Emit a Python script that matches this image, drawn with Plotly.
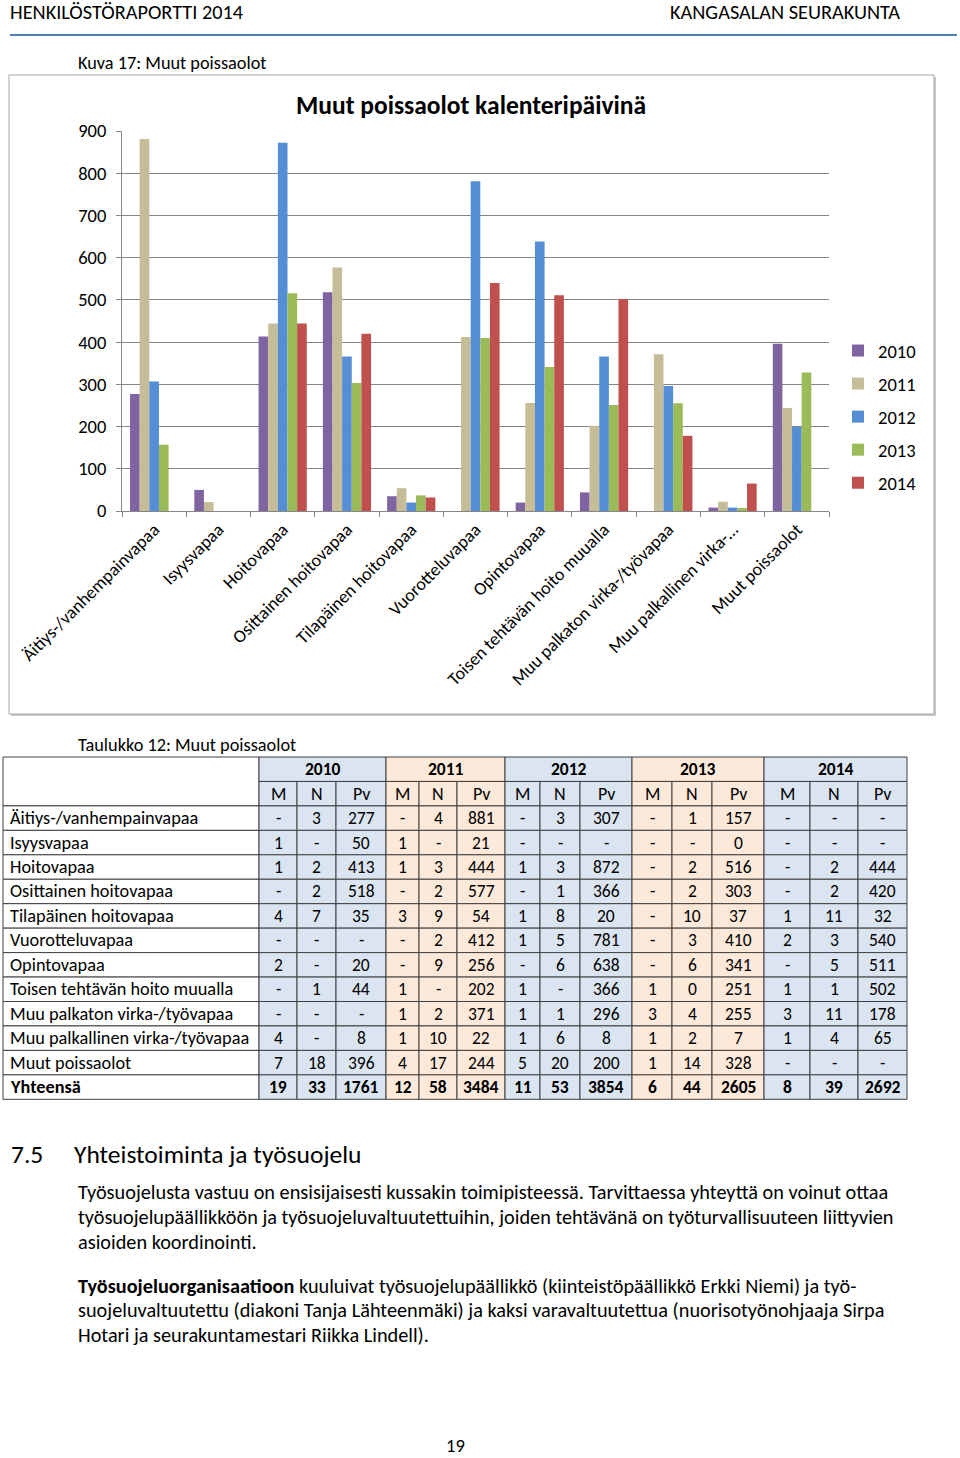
import plotly.graph_objects as go

FONT = "Carlito, Calibri, Lato, sans-serif"

years = ["2010", "2011", "2012", "2013", "2014"]
colors = ["#8064A2", "#C4BD97", "#558ED5", "#9BBB59", "#C0504D"]

categories = ["Äitiys-/vanhempainvapaa", "Isyysvapaa", "Hoitovapaa",
              "Osittainen hoitovapaa", "Tilapäinen hoitovapaa", "Vuorotteluvapaa",
              "Opintovapaa", "Toisen tehtävän hoito muualla",
              "Muu palkaton virka-/työvapaa", "Muu palkallinen virka-/työvapaa",
              "Muut poissaolot"]
tick_labels = categories[:9] + ["Muu palkallinen virka-…", "Muut poissaolot"]

# table columns M / N / Pv per year ("-" = no entry)
m_2010 = ["-", "1", "1", "-", "4", "-", "2", "-", "-", "4", "7"]
n_2010 = ["3", "-", "2", "2", "7", "-", "-", "1", "-", "-", "18"]
pv_2010 = ["277", "50", "413", "518", "35", "-", "20", "44", "-", "8", "396"]

m_2011 = ["-", "1", "1", "-", "3", "-", "-", "1", "1", "1", "4"]
n_2011 = ["4", "-", "3", "2", "9", "2", "9", "-", "2", "10", "17"]
pv_2011 = ["881", "21", "444", "577", "54", "412", "256", "202", "371", "22", "244"]

m_2012 = ["-", "-", "1", "-", "1", "1", "-", "1", "1", "1", "5"]
n_2012 = ["3", "-", "3", "1", "8", "5", "6", "-", "1", "6", "20"]
pv_2012 = ["307", "-", "872", "366", "20", "781", "638", "366", "296", "8", "200"]

m_2013 = ["-", "-", "-", "-", "-", "-", "-", "1", "3", "1", "1"]
n_2013 = ["1", "-", "2", "2", "10", "3", "6", "0", "4", "2", "14"]
pv_2013 = ["157", "0", "516", "303", "37", "410", "341", "251", "255", "7", "328"]

m_2014 = ["-", "-", "-", "-", "1", "2", "-", "1", "3", "1", "-"]
n_2014 = ["-", "-", "2", "2", "11", "3", "5", "1", "11", "4", "-"]
pv_2014 = ["-", "-", "444", "420", "32", "540", "511", "502", "178", "65", "-"]

totals = [["19", "33", "1761"], ["12", "58", "3484"], ["11", "53", "3854"],
          ["6", "44", "2605"], ["8", "39", "2692"]]

sub_heads = ["M", "N", "Pv"]

m_cols = [m_2010, m_2011, m_2012, m_2013, m_2014]
n_cols = [n_2010, n_2011, n_2012, n_2013, n_2014]
pv_cols = [pv_2010, pv_2011, pv_2012, pv_2013, pv_2014]


def num(v):
    return None if v == "-" else float(v)


def px(x):
    return x / 960


def py(y):
    return 1 - y / 1458


fig = go.Figure()

for year, color, pv in zip(years, colors, pv_cols):
    fig.add_trace(go.Bar(x=categories, y=[num(v) for v in pv], name=year,
                         marker=dict(color=color, line_width=0),
                         legendgroup=year))

grey = "#868686"
fig.update_layout(
    width=960, height=1458,
    margin=dict(l=0, r=0, t=0, b=0, autoexpand=False),
    paper_bgcolor="white", plot_bgcolor="rgba(0,0,0,0)",
    font=dict(family=FONT, color="black"),
    barmode="group", bargap=0.25, bargroupgap=0,
    title=dict(text="<b>Muut poissaolot kalenteripäivinä</b>",
               x=px(471), y=py(105), xanchor="center", yanchor="middle",
               font=dict(size=25.5, family=FONT)),
    legend=dict(x=px(838), y=py(332), xanchor="left", yanchor="top",
                font=dict(size=18.5), traceorder="grouped", tracegroupgap=6,
                bgcolor="rgba(0,0,0,0)"),
    xaxis=dict(domain=[px(122), px(829)], anchor="y", automargin=False,
               categoryorder="array", categoryarray=categories,
               tickvals=categories, ticktext=tick_labels,
               tickangle=-45, tickfont=dict(size=18),
               showline=True, linecolor=grey, linewidth=1,
               ticks="outside", tickson="boundaries", ticklen=5, tickcolor=grey,
               showgrid=False),
    yaxis=dict(domain=[py(511), py(131)], anchor="x", range=[0, 900],
               automargin=False,
               dtick=100, tickfont=dict(size=18.5),
               showline=True, linecolor=grey, linewidth=1,
               ticks="outside", ticklen=5, tickcolor=grey,
               ticklabelstandoff=6,
               showgrid=True, gridcolor=grey, gridwidth=1, zeroline=False),
    # pixel-scaled axes carrying the table
    xaxis2=dict(domain=[0, 1], range=[0, 960], anchor="y2", visible=False,
                automargin=False),
    yaxis2=dict(domain=[0, 1], range=[1458, 0], anchor="x2", visible=False,
                automargin=False),
)

shapes = []
annotations = []

# page header
annotations.append(dict(text="HENKILÖSTÖRAPORTTI 2014", x=px(8), y=py(12),
                        xanchor="left", yanchor="middle", font=dict(size=20.3)))
annotations.append(dict(text="KANGASALAN SEURAKUNTA", x=px(902), y=py(12),
                        xanchor="right", yanchor="middle", font=dict(size=20.3)))
shapes.append(dict(type="line", xref="paper", yref="paper", x0=px(10), x1=px(957),
                   y0=py(35), y1=py(35), line=dict(color="#4F81BD", width=2)))

annotations.append(dict(text="Kuva 17: Muut poissaolot", x=px(76), y=py(63),
                        xanchor="left", yanchor="middle", font=dict(size=18.3)))

# chart frame with shadow
shapes.append(dict(type="rect", xref="paper", yref="paper", layer="below",
                   x0=px(11), x1=px(936), y0=py(716), y1=py(77),
                   fillcolor="#C8C8C8", line_width=0))
shapes.append(dict(type="rect", xref="paper", yref="paper", layer="below",
                   x0=px(9), x1=px(934), y0=py(714), y1=py(75),
                   fillcolor="white", line=dict(color="#A6A6A6", width=1)))

# table
annotations.append(dict(text="Taulukko 12: Muut poissaolot", x=px(76), y=py(745),
                        xanchor="left", yanchor="middle", font=dict(size=18.3)))

label_w = 256
sub_w = [[38, 39, 50], [33, 38, 48], [35, 40, 52], [40, 40, 52], [46, 48, 49]]
fills = ["#DBE5F1", "#FDE9D9", "#DBE5F1", "#FDE9D9", "#DBE5F1"]
t_left, t_top, row_h = 3, 757, 24.45
border = "#404040"

row_labels = categories + ["Yhteensä"]
n_rows = len(row_labels)


def cell(x0, x1, y0, y1, fill):
    shapes.append(dict(type="rect", xref="x2", yref="y2", layer="below",
                       x0=x0, x1=x1, y0=y0, y1=y1, fillcolor=fill,
                       line=dict(color=border, width=1)))


def txt(s, x, y, anchor="center", bold=False, size=17.5):
    annotations.append(dict(text=f"<b>{s}</b>" if bold else s, xref="x2", yref="y2",
                            x=x, y=y, xanchor=anchor, yanchor="middle",
                            showarrow=False, font=dict(size=size)))


# top-left merged header cell
cell(t_left, t_left + label_w, t_top, t_top + 2 * row_h, "white")
for i, lab in enumerate(row_labels):
    y0 = t_top + (i + 2) * row_h
    cell(t_left, t_left + label_w, y0, y0 + row_h, "white")
    txt(lab, t_left + 5, y0 + row_h / 2, anchor="left", bold=(lab == "Yhteensä"),
        size=18.3)

x = t_left + label_w
for k, year in enumerate(years):
    block_w = sum(sub_w[k])
    cell(x, x + block_w, t_top, t_top + row_h, fills[k])
    txt(year, x + block_w / 2, t_top + row_h / 2, bold=True)
    cols = [m_cols[k], n_cols[k], pv_cols[k]]
    cx = x
    for j, w in enumerate(sub_w[k]):
        y0 = t_top + row_h
        cell(cx, cx + w, y0, y0 + row_h, fills[k])
        txt(sub_heads[j], cx + w / 2, y0 + row_h / 2, size=18)
        vals = cols[j] + [totals[k][j]]
        for i, v in enumerate(vals):
            y0 = t_top + (i + 2) * row_h
            cell(cx, cx + w, y0, y0 + row_h, fills[k])
            txt(v, cx + w / 2, y0 + row_h / 2, bold=(i == n_rows - 1))
        cx += w
    x += block_w

# section text
annotations.append(dict(text="7.5", x=px(9), y=py(1154), xanchor="left",
                        yanchor="middle", font=dict(size=25.5)))
annotations.append(dict(text="Yhteistoiminta ja työsuojelu", x=px(72), y=py(1154),
                        xanchor="left", yanchor="middle", font=dict(size=25.5)))

body_lines = [
    ("Työsuojelusta vastuu on ensisijaisesti kussakin toimipisteessä. Tarvittaessa yhteyttä on voinut ottaa", 1192),
    ("työsuojelupäällikköön ja työsuojeluvaltuutettuihin, joiden tehtävänä on työturvallisuuteen liittyvien", 1217),
    ("asioiden koordinointi.", 1242),
    ("<b>Työsuojeluorganisaatioon</b> kuuluivat työsuojelupäällikkö (kiinteistöpäällikkö Erkki Niemi) ja työ-", 1286),
    ("suojeluvaltuutettu (diakoni Tanja Lähteenmäki) ja kaksi varavaltuutettua (nuorisotyönohjaaja Sirpa", 1310),
    ("Hotari ja seurakuntamestari Riikka Lindell).", 1335),
]
for line, yy in body_lines:
    annotations.append(dict(text=line, x=px(76), y=py(yy), xanchor="left",
                            yanchor="middle", font=dict(size=20.3)))

annotations.append(dict(text="19", x=px(455), y=py(1445), xanchor="center",
                        yanchor="middle", font=dict(size=18.5)))

for a in annotations:
    a.setdefault("xref", "paper")
    a.setdefault("yref", "paper")
    a["showarrow"] = False

fig.update_layout(shapes=shapes, annotations=annotations)

# page body has a default 8px margin; drop it so the page lines up
fig.write_html("out.html", config={"displayModeBar": False},
               post_script="document.body.style.margin = '0';")
